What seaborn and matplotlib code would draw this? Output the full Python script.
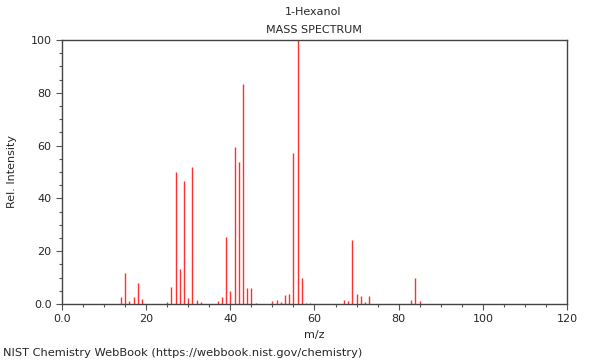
import pandas as pd
import seaborn as sns
import matplotlib.pyplot as plt
from matplotlib.ticker import MultipleLocator, FuncFormatter

# m/z values and relative intensities
mz = [14, 15, 16, 17, 18, 19, 25, 26, 27, 28, 29, 30, 31, 32, 33,
      37, 38, 39, 40, 41, 42, 43, 44, 45, 46,
      50, 51, 52, 53, 54, 55, 56, 57, 58, 59,
      67, 68, 69, 70, 71, 72, 73, 83, 84, 85]
intensity = [2.8, 11.7, 1.0, 2.6, 8.0, 2.0, 0.6, 6.3, 50.0, 13.1, 46.6, 2.3, 52.0, 1.5, 0.8,
             1.3, 2.6, 25.5, 5.0, 59.3, 53.8, 83.5, 6.2, 6.2, 0.4,
             1.1, 1.5, 0.8, 3.3, 3.6, 57.2, 100.0, 9.7, 0.4, 0.4,
             1.4, 1.1, 24.1, 3.9, 3.0, 0.7, 3.2, 1.5, 9.8, 1.1]

title_lines = ["1-Hexanol", "MASS SPECTRUM"]
credit = "NIST Chemistry WebBook (https://webbook.nist.gov/chemistry)"

df = pd.DataFrame({"mz": mz, "intensity": intensity})

sns.set_style("white")
plt.rcParams["font.family"] = ["DejaVu Sans"]

fig = plt.figure(figsize=(6, 3.6), dpi=100)
ax = fig.add_axes([0.1033, 0.1556, 0.8417, 0.7334])

ax.vlines(df["mz"], 0, df["intensity"], color="#ff3030", linewidth=1.0)

ax.set_xlim(0, 120)
ax.set_ylim(0, 100)
ax.xaxis.set_major_locator(MultipleLocator(20))
ax.xaxis.set_minor_locator(MultipleLocator(5))
ax.yaxis.set_major_locator(MultipleLocator(20))
ax.yaxis.set_minor_locator(MultipleLocator(5))
fmt = FuncFormatter(lambda v, p: "0.0" if v == 0 else f"{v:g}")
ax.xaxis.set_major_formatter(fmt)
ax.yaxis.set_major_formatter(fmt)

ax.tick_params(which="both", direction="out", left=True, bottom=True,
               color="#555555", labelsize=8, width=0.8)
ax.tick_params(which="major", length=4)
ax.tick_params(which="minor", length=2.5)
for s in ax.spines.values():
    s.set_color("#444444")
    s.set_linewidth(1.0)

ax.set_xlabel("m/z", fontsize=8, labelpad=4)
ax.set_ylabel("Rel. Intensity", fontsize=8, labelpad=10)

fig.text(0.5225, 1 - 12 / 360, title_lines[0], ha="center", va="center", fontsize=8)
fig.text(0.5225, 1 - 30 / 360, title_lines[1], ha="center", va="center", fontsize=8)
fig.text(0.005, 1 - 353 / 360, credit, ha="left", va="center", fontsize=8.2)

fig.savefig("out.png", dpi=100)
